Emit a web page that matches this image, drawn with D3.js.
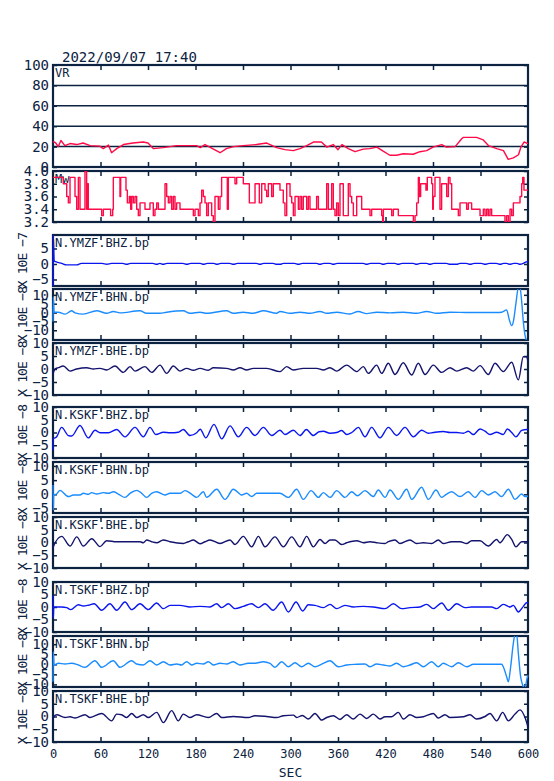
<!DOCTYPE html>
<html>
<head>
<meta charset="utf-8">
<script src="https://cdn.jsdelivr.net/npm/d3@7"></script>
<style>
body { margin: 0; background: #fff; }
</style>
</head>
<body>
<svg id="chart" width="554" height="781"></svg>
<script>
var NAVY = "#0b2240";
var RED = "#ff0a48";
var BLUE_Z = "#0a16f0";
var BLUE_N = "#1a8cff";
var BLUE_E = "#14146e";
var FONT = "'DejaVu Sans Mono', monospace";

var titleText = "2022/09/07 17:40";
var xTicks = [0, 60, 120, 180, 240, 300, 360, 420, 480, 540, 600];

// variance reduction [sec, %]
var vrData = [[0,25],[3,24],[6.7,20],[10,26],[15,21],[21.5,23],[30,22],[38,23.5],[47,21],[59,20.5],[63.5,18],[70,21.5],[74,14],[80.5,18],[89,22],[101,23.5],[114,24.5],[120,23.5],[127,18],[139,19],[148,20],[156,21],[181.5,21],[186,19],[192,22],[198,19.5],[211,14],[219,18],[228,20],[240,21],[257,22],[270,23.5],[282.5,19],[293,17],[303.5,16],[312,18],[320.5,21],[329,24.5],[339,24.5],[346,19.5],[354,22],[360,17],[365,22],[373,18],[381.5,15],[392,17.5],[400,18],[409,19.5],[417,15.5],[425.5,11.5],[434,11.5],[442.5,13],[455,12.5],[463.5,15],[472,16],[480,19.5],[491,22],[497,19.5],[508,20],[516,27.5],[518,29],[535,29],[543.5,26.5],[550,21],[560.5,18],[569,16],[575,7.5],[581.5,9],[588,12],[591,19.5],[595,24.5],[600,23]];

// moment magnitude [sec, Mw]
var mwData = [[0,3.9],[13,3.8],[17.3,3.6],[19.4,3.5],[21.5,3.9],[27.8,3.6],[29.9,3.4],[32,3.9],[34.1,3.4],[40.4,4.0],[42.5,3.4],[43.4,3.8],[44.6,3.4],[61.5,3.3],[63.6,3.4],[72.8,3.3],[75.4,3.4],[76.2,3.9],[84.6,3.6],[85.5,3.9],[92.2,3.7],[93.9,3.5],[96.4,3.6],[98.1,3.4],[99.4,3.6],[101.5,3.5],[103.6,3.6],[105.7,3.4],[107.8,3.3],[109.9,3.5],[116.2,3.4],[122.5,3.5],[126.7,3.3],[128.8,3.4],[131,3.5],[133.1,3.4],[141.5,3.8],[143.6,3.6],[145.7,3.5],[147.8,3.6],[149.9,3.4],[152,3.6],[154.1,3.4],[156.2,3.5],[160.4,3.4],[177.3,3.3],[179.4,3.4],[183.6,3.3],[185.7,3.5],[187.8,3.7],[189.9,3.6],[192,3.5],[194.1,3.3],[196.2,3.5],[200.4,3.3],[202.5,3.2],[204.6,3.6],[208.8,3.4],[210.9,3.6],[213,3.9],[220.2,3.4],[221.5,3.9],[229.9,3.8],[232,3.9],[240.4,3.8],[248,3.5],[255.2,3.8],[260.6,3.5],[263.6,3.8],[267.8,3.7],[269.9,3.6],[272,3.8],[276.2,3.6],[278.3,3.8],[286.7,3.7],[290.9,3.5],[293,3.3],[295.2,3.8],[299.4,3.6],[301.5,3.5],[303.6,3.3],[305.7,3.6],[309.9,3.4],[312,3.6],[314.1,3.4],[316.2,3.6],[320.4,3.4],[322.5,3.6],[324.6,3.4],[333,3.6],[335.2,3.4],[345.7,3.8],[347.8,3.4],[352,3.8],[354.1,3.4],[356.2,3.3],[358.3,3.5],[360.4,3.3],[362.5,3.8],[366.7,3.3],[373,3.8],[375.2,3.6],[377.3,3.5],[379.4,3.3],[383.6,3.6],[389.9,3.4],[400.4,3.3],[402.5,3.4],[415.2,3.3],[416.4,3.2],[417.3,3.4],[427.8,3.3],[429.9,3.4],[436.2,3.3],[455.2,3.2],[457.3,3.3],[459.4,3.5],[461.5,3.9],[462.7,3.6],[464.4,3.8],[471.1,3.7],[472.8,3.9],[478.3,3.8],[479.6,3.4],[480.4,3.6],[482.5,3.9],[488.8,3.4],[490.9,3.8],[497.3,3.6],[499.4,3.9],[501.5,3.8],[503.6,3.4],[512,3.3],[514.1,3.5],[522.5,3.4],[524.6,3.5],[528.8,3.4],[539.4,3.3],[543.6,3.4],[545.7,3.3],[547.8,3.4],[549.9,3.3],[552,3.4],[554.1,3.3],[570.9,3.2],[573,3.3],[575.2,3.2],[577.3,3.4],[579.4,3.3],[581.5,3.5],[589.9,3.6],[592,3.8],[593.3,3.9],[594.9,3.7],[600,3.7]];

// waveforms [sec, amplitude]
var ymzfBHZ = [[0,-8],[0.3,9.5],[1.5,1],[4,0.7],[11,0.2],[17,-0.3],[30,-0.3],[36,0.2],[62,0.2],[68,-0.1],[74,0.2],[88,0.2],[93,-0.1],[98,0.2],[126,0.2],[131,-0.1],[135,0.2],[139,-0.1],[144,0.2],[164,0.2],[169,-0.1],[174,0.2],[186,0.2],[190,-0.1],[195,0.2],[203,0.2],[207,-0.1],[212,0.2],[223,0.2],[228,-0.1],[233,0.2],[257,0.2],[261.5,-0.1],[266,0.2],[278,0.2],[282.5,-0.1],[287,-0.1],[291,0.2],[305,0.2],[310,-0.1],[315,0.2],[333,0.2],[337,-0.1],[342,0.2],[350,0.2],[354,-0.1],[359,0.2],[392,0.2],[396,-0.1],[401,0.2],[413,0.2],[417,-0.1],[422,0.2],[432,0.2],[436,-0.1],[441,0.2],[455,0.2],[459,-0.1],[464,0.2],[472,0.2],[476,-0.1],[481,0.2],[497,0.2],[501.5,-0.1],[510,-0.1],[514,0.2],[522,0.2],[527,-0.1],[532,0.2],[541,0.2],[546,-0.1],[551,0.2],[560,0.2],[565,-0.1],[569,0.2],[573,0.2],[577,-0.1],[582,0.2],[586,0.2],[590,-0.1],[594,0.2],[598,0.7],[600,0.8]];
var ymzfBHN = [[0,-5],[0.3,9],[1.5,0.2],[6.7,0.2],[15.2,-0.9],[23.6,1.0],[27.8,-0.2],[38.3,-0.9],[55.2,1.0],[67.8,-0.4],[76.2,0.6],[84.6,-0.2],[109.9,1.0],[118.3,-0.4],[135.2,-0.4],[143.6,0.2],[164.6,1.0],[173,-0.4],[185.7,0.2],[194.1,-0.4],[219.4,1.0],[227.8,-0.4],[240,0.2],[253.1,-0.4],[265.7,1.0],[282.5,-0.4],[286.7,0.6],[299.4,-0.4],[312,0.2],[324.6,-0.4],[337.3,0.6],[345.7,-0.4],[358.3,0.2],[375.2,-0.8],[385.7,0.6],[396.2,-0.6],[408.8,0.2],[425.7,-0.2],[442.5,0.2],[459.4,-0.4],[472,0.6],[484.6,-0.4],[501.5,0.2],[526.7,0],[560.4,0],[566.7,0.2],[573,1.5],[576.4,-4.1],[579.4,-7.4],[581.5,-5.1],[584.8,5.3],[587.8,14],[589.9,14],[592,6.3],[594.1,-5.1],[596.2,-12.7],[598.3,-16],[600,-18]];
var ymzfBHE = [[0,-2],[2.5,0],[6.7,0.5],[13,1.15],[21.5,-0.8],[29.9,0],[42.5,0.5],[50.9,0],[59.4,0.25],[67.8,-0.4],[78.3,1.15],[88.8,-1.3],[97.3,0.9],[103.6,-0.8],[116.2,0.9],[124.6,-1.3],[135.2,1.5],[143.6,-1.7],[152,1.15],[160.4,-0.8],[168.8,0.25],[177.3,-0.5],[185.7,0.25],[196.2,-0.5],[202.5,0.5],[219.4,0.25],[227.8,-0.4],[236.2,0.5],[244.6,-0.4],[253.1,0.25],[269.9,0.25],[286.7,-1.0],[295.2,0.9],[303.6,-0.4],[316.2,0.25],[333,0.25],[341.5,-0.4],[349.9,0.5],[358.3,-0.8],[370.9,1.5],[383.6,-1.0],[392,0.9],[398.3,-1.7],[408.8,1.5],[415.2,-1.7],[423.6,2.2],[432,-2.1],[442.5,2.4],[453,-2.3],[461.5,2.2],[469.9,-2.1],[480.4,1.5],[490.9,-1.3],[501.5,0.5],[509.9,-0.8],[522.5,0.5],[530.9,-0.8],[539.4,1.3],[549.9,-2.1],[558.3,2.2],[568.8,-1.0],[579.4,2.6],[587.8,-4.2],[594.1,4.7],[598.3,4.7],[600,2.8]];
var kskfBHZ = [[0,-7],[0.4,-2.5],[4.6,-1.7],[10.9,2.0],[19.4,-1.2],[23.6,-1.4],[34.1,2.75],[44.6,-2.1],[53.1,0.9],[59.4,-0.1],[69.9,-0.1],[80.4,1.2],[90.9,-1.7],[103.6,2.0],[114.1,-1.7],[122.5,2.0],[130,-0.8],[139.4,0.1],[147.8,-0.1],[158.3,0.1],[164.6,1.2],[173.1,-1.2],[181.5,-0.1],[186,1.3],[193,-2.1],[203.4,3.2],[213.1,-2.5],[223.6,2.6],[234.1,-1.7],[244.6,2.0],[255.2,-1.2],[265.7,2.0],[276.2,-1.2],[286.7,0.9],[293.1,-0.8],[303.6,0.9],[312,-1.2],[320,1.2],[328.8,-1.2],[336,0.3],[341.5,0.5],[349.9,-0.3],[358.3,0],[364.6,0.8],[371,-0.8],[377.3,0],[385.7,2.0],[394.1,-1.7],[402.5,2.0],[413,-2.1],[423.6,2.0],[434.1,-1.2],[444.6,2.0],[455.2,-1.7],[465.7,0.9],[474.1,-0.3],[480.4,0],[493.1,0.4],[501.5,0],[509.9,0],[518.3,-0.3],[524.6,0.5],[531,-0.8],[539.4,1.4],[545.7,0.5],[552,-0.8],[560.4,0.1],[568.8,-0.8],[573.9,1.4],[579.4,0],[584.8,-1.7],[592,0.8],[598.3,1.2],[600,1.2]];
var kskfBHN = [[0,3.3],[0.3,-5.6],[1,-0.2],[4.6,0.1],[8.8,1.4],[19.4,-0.8],[25.7,-0.25],[34.1,-0.25],[38.3,0.35],[44.6,0],[48.8,0.6],[55.2,0.1],[63.6,0.6],[69.9,0.35],[76.2,0.9],[82.5,0.1],[90.9,-1.1],[97.3,0.35],[105.7,1.4],[112,0.35],[118.3,-1.1],[124.6,0.35],[131,0.9],[141.5,-0.25],[147.8,0.35],[160.4,0.35],[166.7,1.3],[175.2,0],[181.5,-1.1],[189.9,0.9],[194,-1.1],[206.8,1.8],[217.3,-1.8],[227.8,1.8],[238.3,-0.25],[244.6,0.35],[251,-0.8],[257.3,0.35],[286.7,0.35],[297.3,-1.1],[307.8,1.8],[316.2,-1.8],[326,1.3],[335.2,-1.1],[341.5,0.6],[350,-1.1],[358.3,1.3],[368.8,-1.1],[377.3,0.9],[384.5,-0.5],[394.1,1.3],[404.6,-0.8],[410.9,1.5],[419.4,-1.1],[425.7,1.5],[436.2,-1.8],[446.7,1.8],[453.1,-1.8],[465.7,2.5],[474.1,-1.8],[483.8,1.5],[490.9,-1.1],[497.3,0.1],[503.6,0.9],[514.1,-0.8],[524.6,0.9],[533,-1.1],[541.5,1.3],[549.9,-0.25],[558.3,0.9],[566.7,-0.8],[575.2,1.8],[583.6,-1.8],[592,0.1],[596.2,-0.8],[600,-0.6]];
var kskfBHE = [[0,-2.5],[0.4,-1.7],[10.9,2.4],[21.5,-1.4],[30,2.2],[38.3,-1.4],[49,1.5],[59.4,-1.6],[67.8,0.7],[80.4,0.3],[109.9,0.3],[114.1,-0.1],[118.3,1.0],[124.6,0.3],[131,-0.1],[139.4,1.0],[147.8,0.3],[164.6,-0.4],[170.9,0.3],[177.3,1.0],[185.7,-0.5],[192,0.3],[198.3,1.0],[211,-0.4],[223.6,1.0],[229.9,-0.8],[240.4,2.4],[251,-1.7],[259.4,2.4],[267.8,-1.7],[280.4,2.2],[291,-1.7],[301.5,2.2],[312,-1.7],[320.4,2.4],[328.8,-1.7],[337.3,1.2],[343.6,-0.4],[349.9,1.0],[356.2,1.0],[364.6,-0.8],[371,-0.1],[383.6,0.7],[392,-0.1],[400.4,0.3],[408.8,-0.1],[419.4,-0.4],[423.6,0.3],[432,1.0],[438.3,-0.4],[450.9,1.0],[459.4,-0.4],[467.8,-0.1],[478.3,-0.4],[486.7,1.0],[493,-0.4],[503.6,0.3],[514.1,0.3],[522.5,-0.4],[528.8,0.7],[539.4,0.7],[549.9,-1.4],[560.4,1.2],[564.6,-0.1],[573.9,3.1],[579.4,1.2],[584.8,-1.7],[592,0.3],[600,0.3]];
var tskfBHZ = [[0,4.6],[0.3,-4.5],[1,0],[10.9,0],[17.3,-0.26],[22.3,-1.05],[32,0.92],[38.3,0.4],[44.6,0.7],[52,1.3],[61.5,-1.3],[72,1.3],[80.4,-1.3],[90.9,2.0],[99.4,-1.05],[109.9,1.3],[120.4,-1.05],[130.9,1.6],[139.4,-0.66],[147.8,0.66],[160.4,0.66],[173,0],[185.7,0.26],[198.3,0],[206.7,1.3],[213,-0.26],[221.5,1.3],[229.9,-0.66],[240.4,0.26],[250.9,1.3],[259.4,-0.26],[267.8,1.3],[278,-1.3],[288.8,2.0],[297.3,-2.0],[307,2.0],[315.4,-1.6],[322.5,0.92],[330.9,0.66],[341.5,-0.26],[349.9,1.05],[358.3,-0.66],[368.8,0.66],[379.4,0],[392,0.26],[404.6,0],[419.4,-0.66],[429.9,1.3],[440.4,-0.66],[450.9,-0.26],[463.6,0],[472,1.05],[480.4,-0.66],[491,1.6],[499.4,-1.3],[509.9,1.3],[520.4,-0.26],[528.8,0],[554.1,0],[560.4,-0.66],[568.8,1.05],[577.3,0],[581.5,0.66],[587.8,-2.0],[594.1,0.26],[598.3,1.7],[600,1.7]];
var tskfBHN = [[0,-8.7],[0.3,6.3],[1.5,-0.35],[6.7,0.5],[15.2,0.15],[23.6,0.5],[32,-0.35],[40.4,-1.5],[53,1.8],[61.5,-1.5],[76.2,1.8],[84.6,-1.5],[99.4,1.8],[105.7,0.15],[114.1,-0.35],[122.5,1.8],[130.9,-0.35],[139.4,1.3],[147.8,-0.35],[156.2,0.15],[162.5,-0.35],[168.8,1.3],[175.2,-0.35],[181.5,0.5],[189.9,0.15],[196.2,1.3],[202.5,-0.35],[210.9,0.5],[219.4,0.15],[227.8,1.3],[236.2,-0.35],[246.7,0.5],[255.2,0.5],[265.7,1.3],[274.1,0.5],[280.4,-1.5],[288.8,1.3],[297.3,-1.2],[305.7,0.8],[314.1,-1.2],[322.5,0.5],[330.9,-1.2],[340,0.2],[349.9,1.8],[360.4,-1.2],[370.9,-0.35],[383.6,0],[394.1,0.15],[400.4,-1.2],[408.8,0.15],[417.3,-0.35],[425.7,-0.85],[434.1,0.5],[442.5,-1.2],[450.9,-0.35],[459.4,0.8],[467.8,-1.2],[478.3,1.3],[486.7,-1.2],[493,0.5],[503.6,-1.2],[512,0.8],[522.5,-1.2],[531,0],[566.7,0],[568.8,-1.2],[573,-6.2],[575.2,-8.7],[578.1,-1.2],[581.5,10.5],[583.6,15],[585.7,15],[587.8,5.5],[590.7,-6.2],[593.3,-10.4],[596.2,-12],[598.3,-7.9],[600,-5.4]];
var tskfBHE = [[0,-1.5],[0.4,-0.4],[4.6,0.7],[15.2,-0.4],[21.5,-0.1],[27.8,-0.6],[40.4,0.7],[46.7,-0.4],[61.5,1.2],[74.1,-1.7],[80.4,0.95],[86.7,0.7],[93,-0.4],[99.4,1.2],[105.7,-0.4],[114.1,0.7],[120.4,-0.4],[131,1.6],[139.4,-2.4],[149.9,2.3],[158.3,-1.7],[164.6,0.95],[173,-0.4],[181.5,0.7],[196.2,-0.4],[206.7,1.2],[213,-0.4],[227.8,0],[246.7,-0.4],[255.2,0.3],[269.9,0],[282.5,-0.4],[290.9,0.3],[303.6,0.55],[307.8,-0.4],[315,0.4],[322.5,-1.0],[330.9,1.2],[339.4,-1.4],[345.7,-0.4],[354.1,0.3],[362.5,-1.15],[370.9,0.7],[379.4,-1.0],[387.8,0.95],[396.2,-0.8],[404.6,0.95],[413,-1.0],[419.4,-0.1],[427.8,-0.1],[436.2,1.6],[442.5,-1.0],[450.9,0.7],[459.4,-0.4],[467.8,-0.1],[480.4,1.2],[486.7,-0.6],[495.1,0.7],[501.5,-0.4],[518.3,-0.1],[526.7,0.7],[535.2,-1.0],[545.7,0],[552,1.2],[560.4,-1.7],[568,1.6],[575.2,-1.7],[583.6,0.95],[589.9,2.6],[596.2,-0.4],[600,-4.1]];

var waveTicks = [-10, -5, 0, 5, 10];

var X0 = 53, X1 = 528;

var panels = [
  { name: "VR", top: 65, bottom: 167, domain: [0, 100], ticks: [0, 20, 40, 60, 80, 100], fmt: "d", grid: [20, 40, 60, 80], data: vrData, color: RED, curve: d3.curveLinear },
  { name: "Mw", top: 171, bottom: 222, domain: [3.2, 4.0], ticks: [3.2, 3.4, 3.6, 3.8, 4.0], fmt: ".1f", data: mwData, color: RED, curve: d3.curveStepAfter },
  { name: "N.YMZF.BHZ.bp", unit: "X 10E \u22127", top: 235, bottom: 286, domain: [-7.1, 9.35], ticks: [-5, 0, 5], data: ymzfBHZ, color: BLUE_Z },
  { name: "N.YMZF.BHN.bp", unit: "X 10E \u22128", top: 289, bottom: 340, domain: [-15.5, 13.3], ticks: waveTicks, data: ymzfBHN, color: BLUE_N },
  { name: "N.YMZF.BHE.bp", unit: "X 10E \u22128", top: 343, bottom: 395, domain: [-10, 10], ticks: waveTicks, data: ymzfBHE, color: BLUE_E },
  { name: "N.KSKF.BHZ.bp", unit: "X 10E \u22128", top: 407, bottom: 458, domain: [-10, 10], ticks: waveTicks, data: kskfBHZ, color: BLUE_Z },
  { name: "N.KSKF.BHN.bp", unit: "X 10E \u22128", top: 462, bottom: 513, domain: [-6.6, 11.4], ticks: [-5, 0, 5, 10], data: kskfBHN, color: BLUE_N },
  { name: "N.KSKF.BHE.bp", unit: "X 10E \u22128", top: 517, bottom: 568, domain: [-10, 10], ticks: waveTicks, data: kskfBHE, color: BLUE_E },
  { name: "N.TSKF.BHZ.bp", unit: "X 10E \u22128", top: 582, bottom: 632, domain: [-10, 10], ticks: waveTicks, data: tskfBHZ, color: BLUE_Z },
  { name: "N.TSKF.BHN.bp", unit: "X 10E \u22128", top: 636, bottom: 687, domain: [-11.3, 14.1], ticks: waveTicks, data: tskfBHN, color: BLUE_N },
  { name: "N.TSKF.BHE.bp", unit: "X 10E \u22128", top: 691, bottom: 742, domain: [-10, 10], ticks: waveTicks, data: tskfBHE, color: BLUE_E }
];

var svg = d3.select("#chart");
var x = d3.scaleLinear().domain([0, 600]).range([X0, X1]);
var innerTicks = xTicks.slice(1, -1);

function styleAxis(g, size) {
  g.attr("font-family", FONT).attr("font-size", size).attr("color", NAVY);
  g.selectAll(".domain").remove();
  g.selectAll("line").attr("stroke-width", 1.5);
}

svg.append("text") //
  .attr("x", 62).attr("y", 62) //
  .attr("font-family", FONT).attr("font-size", 14) //
  .attr("fill", NAVY) //
  .text(titleText);

panels.forEach(function(p, i) {

  var y = d3.scaleLinear().domain(p.domain).range([p.bottom, p.top]);
  var g = svg.append("g").attr("class", "panel");

  svg.append("clipPath").attr("id", "clip" + i) //
    .append("rect") //
    .attr("x", X0 - 1).attr("y", p.top) //
    .attr("width", X1 - X0 + 2).attr("height", p.bottom - p.top);

  // grid lines (VR only)
  if (p.grid) {
    g.selectAll(".grid").data(p.grid).enter().append("line") //
      .attr("x1", X0).attr("x2", X1) //
      .attr("y1", function(d) { return y(d); }) //
      .attr("y2", function(d) { return y(d); }) //
      .attr("stroke", NAVY).attr("stroke-width", 1.5);
  }

  // inward time ticks, top and bottom
  g.append("g").attr("transform", "translate(0," + p.top + ")") //
    .call(d3.axisBottom(x).tickValues(innerTicks).tickSize(5).tickFormat("")) //
    .call(styleAxis, 12);
  g.append("g").attr("transform", "translate(0," + p.bottom + ")") //
    .call(d3.axisTop(x).tickValues(innerTicks).tickSize(5).tickFormat("")) //
    .call(styleAxis, 12);

  // inward value ticks, left and right
  g.append("g").attr("transform", "translate(" + X0 + ",0)") //
    .call(d3.axisRight(y).tickValues(p.ticks).tickSize(4).tickFormat("")) //
    .call(styleAxis, 12);
  g.append("g").attr("transform", "translate(" + X1 + ",0)") //
    .call(d3.axisLeft(y).tickValues(p.ticks).tickSize(4).tickFormat("")) //
    .call(styleAxis, 12);

  // value labels
  g.append("g").attr("transform", "translate(" + X0 + ",0)") //
    .call(d3.axisLeft(y).tickValues(p.ticks).tickSize(0).tickPadding(4) //
      .tickFormat(d3.format(p.fmt || "d"))) //
    .call(styleAxis, 14);

  // unit label
  if (p.unit) {
    var cy = (p.top + p.bottom) / 2;
    g.append("text") //
      .attr("transform", "translate(22," + cy + ") rotate(-90)") //
      .attr("text-anchor", "middle").attr("dy", "0.35em") //
      .attr("font-family", FONT).attr("font-size", 13) //
      .attr("letter-spacing", -0.9) //
      .attr("fill", NAVY) //
      .text(p.unit);
  }

  // frame
  g.append("rect") //
    .attr("x", X0).attr("y", p.top) //
    .attr("width", X1 - X0).attr("height", p.bottom - p.top) //
    .attr("fill", "none").attr("stroke", NAVY).attr("stroke-width", 2.2);

  // channel label
  g.append("text") //
    .attr("x", 55).attr("y", p.top + 12) //
    .attr("font-family", FONT).attr("font-size", 12) //
    .attr("fill", NAVY) //
    .text(p.name);

  // trace
  var line = d3.line() //
    .x(function(d) { return x(d[0]); }) //
    .y(function(d) { return y(d[1]); }) //
    .curve(p.curve || d3.curveMonotoneX);

  g.append("path") //
    .datum(p.data) //
    .attr("clip-path", "url(#clip" + i + ")") //
    .attr("d", line) //
    .attr("fill", "none") //
    .attr("stroke", p.color) //
    .attr("stroke-width", 1.4) //
    .attr("stroke-linejoin", "round");

});// END: panels loop

// time axis labels
var last = panels[panels.length - 1];
svg.append("g").attr("transform", "translate(0," + last.bottom + ")") //
  .call(d3.axisBottom(x).tickValues(xTicks).tickSize(0).tickPadding(7)) //
  .call(styleAxis, 12);

svg.append("text") //
  .attr("x", (X0 + X1) / 2).attr("y", 777) //
  .attr("text-anchor", "middle") //
  .attr("font-family", FONT).attr("font-size", 13) //
  .attr("fill", NAVY) //
  .text("SEC");
</script>
</body>
</html>
